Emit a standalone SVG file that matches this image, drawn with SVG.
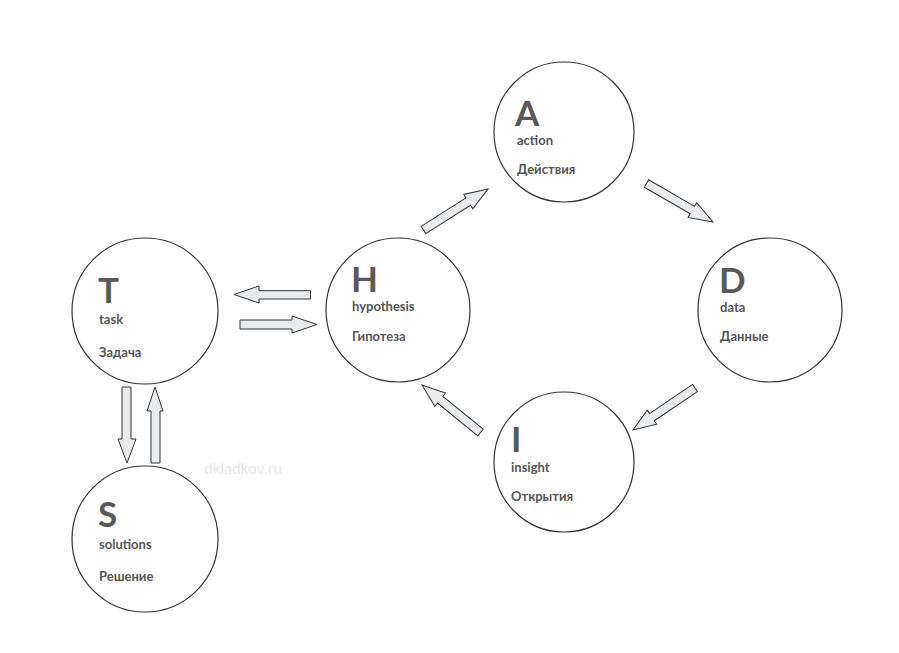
<svg xmlns="http://www.w3.org/2000/svg" width="899" height="653" viewBox="0 0 899 653">
<style>
.c{fill:#fff;stroke:#333;stroke-width:1.2}
.L{font-family:Lato,"Open Sans",sans-serif;font-weight:700;font-size:35px;fill:#595959}
.s{font-family:Lato,"Open Sans",sans-serif;font-weight:700;font-size:13px;fill:#555}
.a{fill:#e9ecee;stroke:#333;stroke-width:1}
.w{font-family:Lato,"Open Sans",sans-serif;font-size:15.5px;fill:#e8e8e8}
</style>
<rect width="899" height="653" fill="#fff"/>
<g id="connectors">
<polygon class="a" points="310.5,290.7 259,290.7 259,286 234,294.5 259,303 259,299 310.5,299"/>
<polygon class="a" points="240,320 292,320 292,316 317,324.5 292,333 292,329 240,329"/>
<polygon class="a" points="122,387 131,387 131,439 136,439 127,463 118,439 122,439"/>
<polygon class="a" points="151,463 160,463 160,411 163,411 155,387 147,411 151,411"/>
<path class="a" transform="translate(423.5,230) rotate(-32.4)" d="M0,-4.3 H53 V-8.5 L76.4,0 L53,8.5 V4.3 H0 Z"/>
<path class="a" transform="translate(646.5,183.5) rotate(30.1)" d="M0,-4.3 H53 V-8.5 L76.8,0 L53,8.5 V4.3 H0 Z"/>
<path class="a" transform="translate(695,388) rotate(145.9)" d="M0,-4.3 H52 V-8.5 L74.9,0 L52,8.5 V4.3 H0 Z"/>
<path class="a" transform="translate(480.5,432.5) rotate(219.1)" d="M0,-4.3 H52 V-8.5 L75.4,0 L52,8.5 V4.3 H0 Z"/>
</g>
<g id="T"><circle class="c" cx="145" cy="311" r="73"/><text class="L" x="98" y="303">T</text><text class="s" x="99" y="324">task</text><text class="s" x="99" y="357">Задача</text></g>
<g id="H"><circle class="c" cx="398" cy="310" r="72"/><text class="L" x="351" y="292">H</text><text class="s" x="352" y="311">hypothesis</text><text class="s" x="352" y="341">Гипотеза</text></g>
<g id="A"><circle class="c" cx="564" cy="132" r="70"/><text class="L" x="515" y="126">A</text><text class="s" x="517" y="145">action</text><text class="s" x="517" y="174">Действия</text></g>
<g id="D"><circle class="c" cx="770" cy="310" r="72"/><text class="L" x="719" y="293">D</text><text class="s" x="720" y="312">data</text><text class="s" x="720" y="341">Данные</text></g>
<g id="I"><circle class="c" cx="564" cy="462" r="70"/><text class="L" x="511" y="452">I</text><text class="s" x="511" y="472">insight</text><text class="s" x="511" y="501">Открытия</text></g>
<g id="S"><circle class="c" cx="145" cy="539" r="73"/><text class="L" x="98" y="527">S</text><text class="s" x="99" y="549">solutions</text><text class="s" x="99" y="581">Решение</text></g>
<text class="w" x="204" y="474">dkladkov.ru</text>
</svg>
